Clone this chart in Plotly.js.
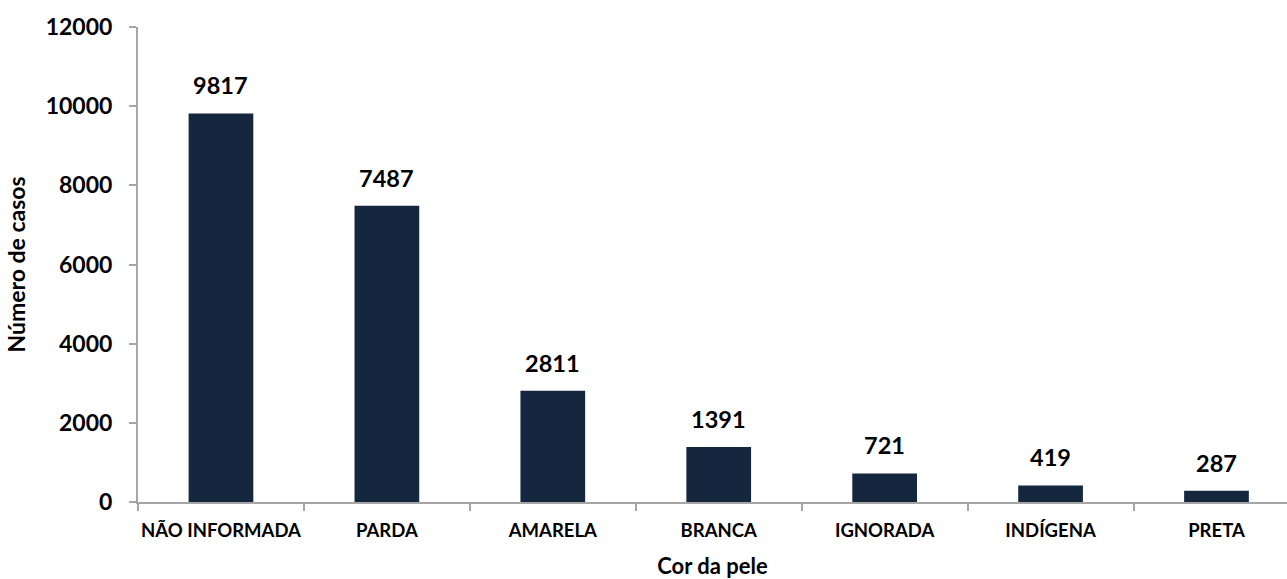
<!DOCTYPE html>
<html><head><meta charset="utf-8">
<script src="https://cdn.plot.ly/plotly-3.0.1.min.js"></script>
<style>body{margin:0;background:#fff}#chart{width:1287px;height:579px}</style>
</head><body><div id="chart"></div>
<script>
const categories = ["NÃO INFORMADA","PARDA","AMARELA","BRANCA","IGNORADA","INDÍGENA","PRETA"];
const casos = [9817,7487,2811,1391,721,419,287];
const yTicks = [0,2000,4000,6000,8000,10000,12000];

const font = "Lato, 'Open Sans', sans-serif";
const trace = {
  type: "bar", x: categories, y: casos, width: 0.39,
  marker: {color: "#14273F"}, hoverinfo: "x+y"
};
const annotations = categories.map((c,i)=>({
  x: c, y: casos[i], text: String(casos[i]), showarrow: false,
  yanchor: "bottom", yshift: 12, font: {family: font, size: 23.5, color: "#000", weight: "bold"}
}));
const layout = {
  width: 1287, height: 579,
  margin: {l: 138, r: 0, t: 27, b: 77},
  paper_bgcolor: "#fff", plot_bgcolor: "#fff",
  showlegend: false,
  font: {family: font, color: "#000"},
  xaxis: {
    type: "category", range: [-0.5, 6.425],
    showline: true, linecolor: "#A6A6A6", linewidth: 2,
    ticks: "outside", tickson: "boundaries", ticklen: 7, tickcolor: "#A6A6A6", tickwidth: 2,
    showgrid: false, zeroline: false, ticklabelstandoff: 11, tickangle: 0, automargin: false,
    tickfont: {family: font, size: 18.5, weight: "bold", color: "#000"},
    title: {text: "Cor da pele", font: {family: font, size: 22, weight: "bold", color: "#000"}, standoff: 18}
  },
  yaxis: {
    range: [0, 12000], tickvals: yTicks, ticktext: yTicks.map(String),
    showline: true, linecolor: "#A6A6A6", linewidth: 2,
    ticks: "outside", ticklen: 7, tickcolor: "#A6A6A6", tickwidth: 2,
    showgrid: false, zeroline: false, ticklabelstandoff: 12, automargin: false,
    tickfont: {family: font, size: 23, weight: "bold", color: "#000"},
    title: {text: "Número de casos", font: {family: font, size: 23, weight: "bold", color: "#000"}, standoff: 14}
  },
  annotations: annotations
};
Plotly.newPlot("chart", [trace], layout, {displayModeBar: false, staticPlot: true});
</script></body></html>
